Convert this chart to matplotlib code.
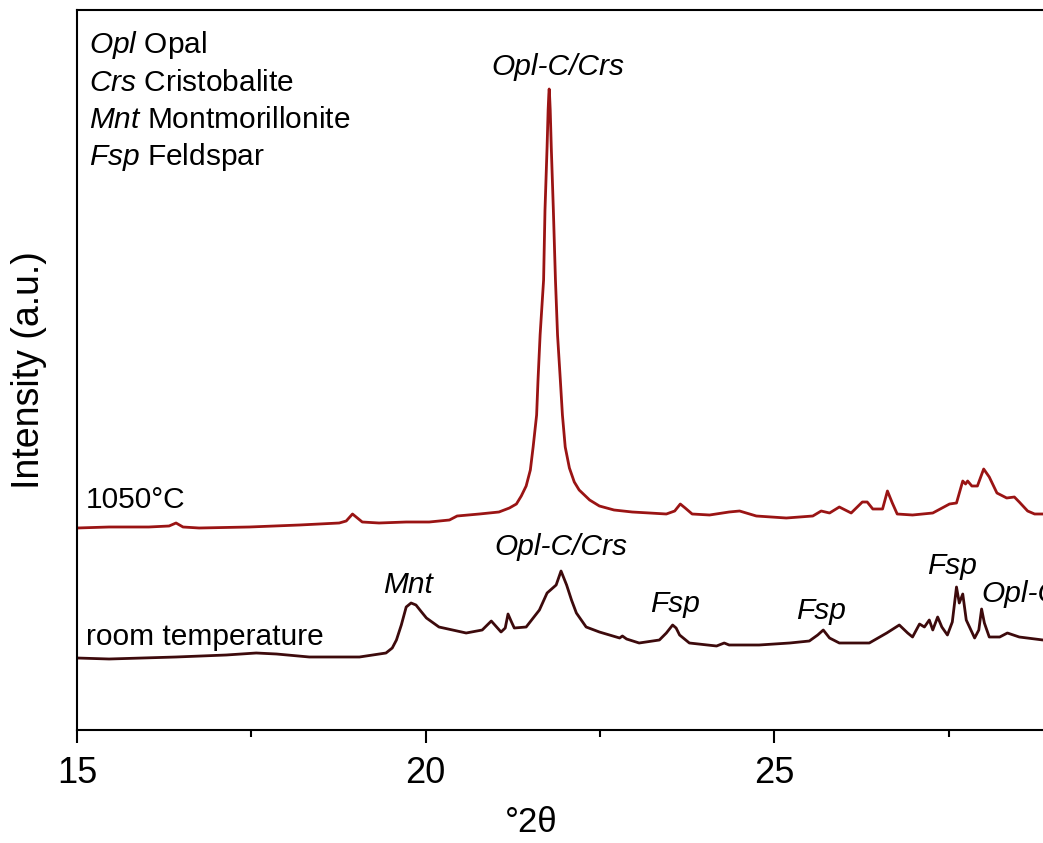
import matplotlib
matplotlib.use("Agg")
import matplotlib.pyplot as plt
from matplotlib.ticker import MultipleLocator

plt.rcParams['font.family'] = ['Liberation Sans', 'DejaVu Sans']
plt.rcParams['mathtext.fontset'] = 'custom'
plt.rcParams['mathtext.rm'] = 'Liberation Sans'
plt.rcParams['mathtext.it'] = 'Liberation Sans:italic'

# ---- data (2theta in degrees, intensity in arbitrary units) ----
two_theta_1050 = [15.00, 15.46, 16.03, 16.32, 16.42, 16.52, 16.75, 17.47, 18.19, 18.76,
                  18.86, 18.95, 19.02, 19.09, 19.33, 19.72, 20.05, 20.34, 20.45, 20.77,
                  21.05, 21.20, 21.30, 21.37, 21.44, 21.50, 21.54, 21.59, 21.61, 21.64,
                  21.69, 21.71, 21.74, 21.755, 21.765, 21.77, 21.775, 21.785, 21.80, 21.83,
                  21.86, 21.89,
                  21.93, 21.96, 22.00, 22.06, 22.13, 22.20, 22.35, 22.49, 22.70, 22.96,
                  23.21, 23.45, 23.57, 23.65, 23.72, 23.82, 24.07, 24.35, 24.50, 24.74,
                  25.17, 25.55, 25.67, 25.79, 25.93, 26.10, 26.26, 26.33, 26.41, 26.55,
                  26.62, 26.69, 26.76, 26.98, 27.27, 27.51, 27.61, 27.70, 27.74, 27.77,
                  27.83, 27.91, 28.00, 28.08, 28.19, 28.33, 28.44, 28.51, 28.63, 28.73,
                  28.85]
intensity_1050 = [202, 203, 203, 204, 207, 203, 202, 203, 205, 207,
                  209, 216, 212, 208, 207, 208, 208, 210, 214, 216,
                  218, 222, 226, 234, 244, 260, 283, 315, 350, 395,
                  450, 520, 583, 620, 636, 641, 636, 620, 583, 520,
                  450, 395,
                  350, 315, 283, 262, 248, 240, 230, 224, 220, 218,
                  217, 216, 219, 226, 222, 216, 215, 218, 219, 214,
                  212, 214, 219, 217, 223, 217, 228, 228, 221, 221,
                  239, 227, 216, 215, 217, 226, 227, 249, 246, 249,
                  244, 244, 261, 253, 237, 232, 233, 228, 219, 216,
                  216]

two_theta_rt = [15.00, 15.46, 16.42, 17.14, 17.57, 17.86, 18.33, 19.05, 19.43, 19.52,
                19.58, 19.65, 19.72, 19.79, 19.86, 19.94, 20.01, 20.19, 20.58, 20.81,
                20.94, 21.08, 21.14, 21.18, 21.23, 21.27, 21.44, 21.63, 21.74, 21.87,
                21.94, 22.02, 22.09, 22.16, 22.30, 22.49, 22.78, 22.82, 22.88, 23.06,
                23.35, 23.45, 23.54, 23.59, 23.64, 23.78, 24.17, 24.28, 24.35, 24.78,
                25.22, 25.50, 25.62, 25.70, 25.79, 25.93, 26.08, 26.36, 26.61, 26.79,
                26.91, 26.98, 27.08, 27.15, 27.22, 27.27, 27.34, 27.40, 27.48, 27.55,
                27.61, 27.65, 27.70, 27.75, 27.87, 27.93, 27.97, 28.01, 28.08, 28.23,
                28.34, 28.51, 28.85]
intensity_rt = [72, 71, 73, 75, 77, 76, 73, 73, 77, 82,
                90, 105, 123, 127, 125, 118, 112, 103, 97, 100,
                109, 98, 102, 116, 108, 102, 103, 120, 137, 145,
                159, 145, 130, 117, 103, 98, 92, 94, 91, 87,
                90, 97, 105, 102, 95, 87, 84, 87, 85, 85,
                87, 89, 95, 100, 92, 87, 87, 87, 97, 105,
                97, 93, 106, 103, 110, 100, 113, 103, 95, 108,
                143, 127, 136, 110, 92, 100, 121, 107, 93, 93,
                97, 93, 90]

legend_abbrev = ['Opl', 'Crs', 'Mnt', 'Fsp']
legend_names = ['Opal', 'Cristobalite', 'Montmorillonite', 'Feldspar']
legend_baselines = [677, 639, 602, 565]

# peak annotations: (label, 2theta, baseline intensity, ha)
peak_labels = [
    ('Opl-C/Crs', 21.89, 655, 'center'),
    ('Mnt', 19.75, 137, 'center'),
    ('Opl-C/Crs', 21.94, 175, 'center'),
    ('Fsp', 23.57, 118, 'center'),
    ('Fsp', 25.67, 111, 'center'),
    ('Fsp', 27.55, 156, 'center'),
    ('Opl-C/Crs', 27.97, 128, 'left'),
]
series_labels = [('1050°C', 15.13, 222), ('room temperature', 15.13, 85)]

x_ticks = [15, 20, 25]

# ---- figure ----
fig = plt.figure(figsize=(10.43, 8.43), dpi=100)
ax = fig.add_axes([77/1043, 1 - 730/843, 1 - 77/1043 + 0.01, 720/843])

ax.plot(two_theta_1050, intensity_1050, color='#9a1414', lw=2.0,
        solid_joinstyle='round', solid_capstyle='round')
ax.plot(two_theta_rt, intensity_rt, color='#3d0a0c', lw=2.0,
        solid_joinstyle='round', solid_capstyle='round')

ax.set_xlim(15, 29.0)
ax.set_ylim(0, 720)
ax.set_xticks(x_ticks)
ax.xaxis.set_minor_locator(MultipleLocator(2.5))
ax.set_yticks([])
ax.tick_params(axis='x', which='major', length=9.5, width=1.5, pad=9, labelsize=26)
ax.tick_params(axis='x', which='minor', length=5, width=1.5)
for side in ['left', 'bottom', 'top']:
    ax.spines[side].set_linewidth(1.5)
ax.spines['right'].set_visible(False)

ax.set_xlabel('°2θ', fontsize=25)
ax.xaxis.set_label_coords(0.465, -0.105)
ax.set_ylabel('Intensity (a.u.)', fontsize=27)
ax.yaxis.set_label_coords(-0.031, 0.5)

for ab, nm, yb in zip(legend_abbrev, legend_names, legend_baselines):
    ax.text(15.17, yb, r'$\mathit{%s}$ %s' % (ab, nm), fontsize=21.5, va='baseline', ha='left')

for txt, x, y, ha in peak_labels:
    ax.text(x, y, txt, fontsize=21.5, style='italic', va='baseline', ha=ha)

for txt, x, y in series_labels:
    ax.text(x, y, txt, fontsize=21.5, va='baseline', ha='left')

fig.savefig('out.png', dpi=100)
